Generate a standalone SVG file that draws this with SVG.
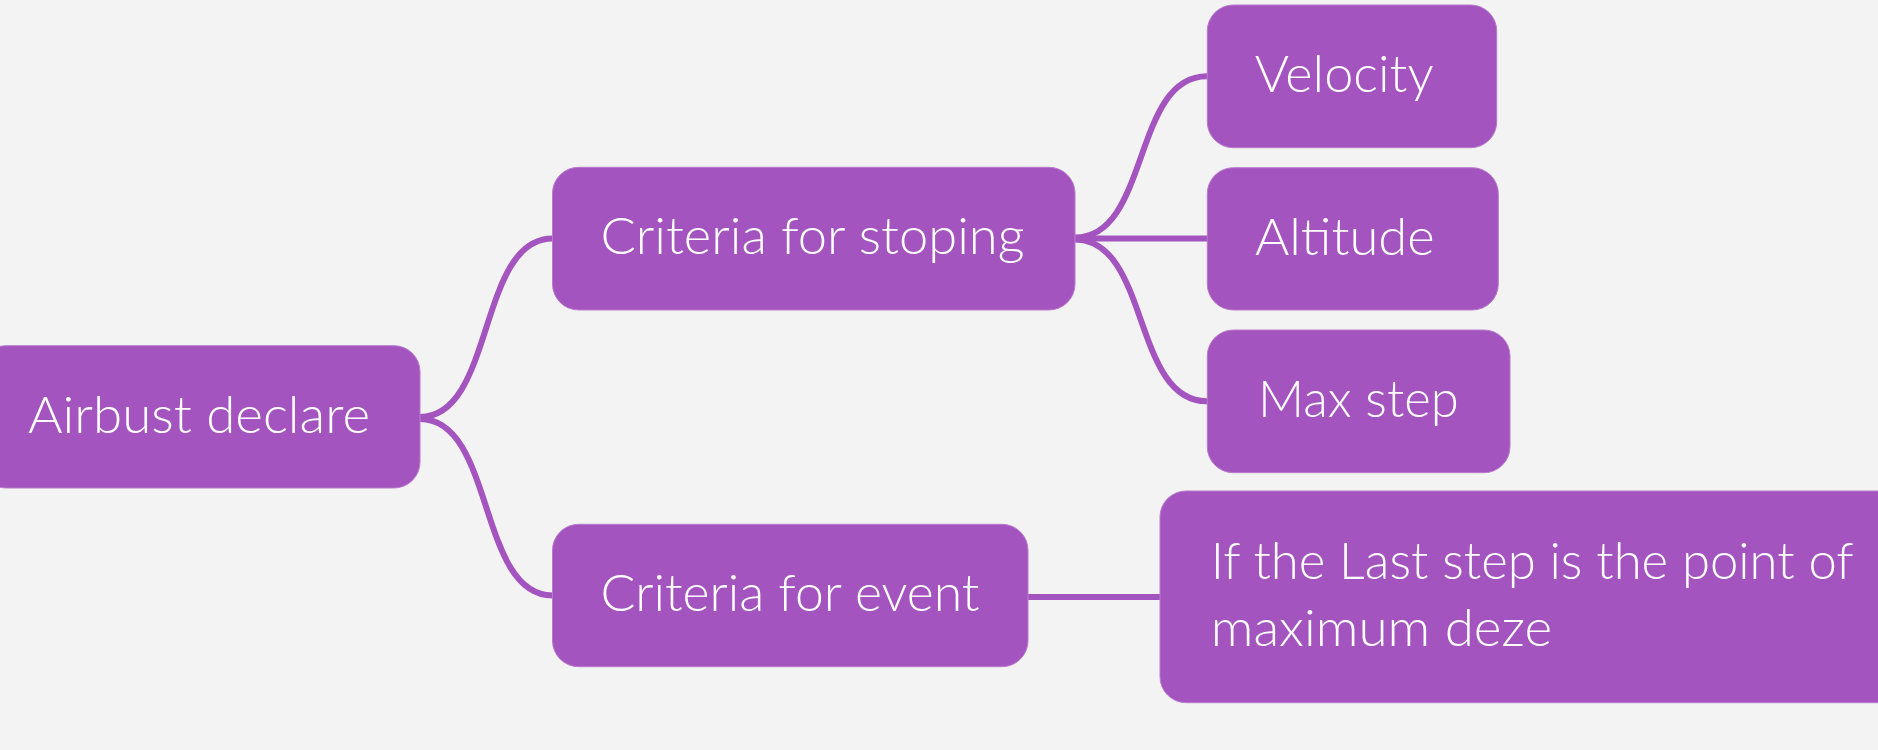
<svg xmlns="http://www.w3.org/2000/svg" width="1878" height="750" viewBox="0 0 1878 750">
<style>
.bg{fill:#F3F3F3}
.node rect{fill:#A454BE;stroke:#B77ACB;stroke-width:1}
.node text{fill:#FFFFFF;font-family:Lato,"Liberation Sans",sans-serif;font-weight:300;font-size:52px}
.conn path{fill:none;stroke:#A454BE;stroke-width:6;stroke-linecap:round}
</style>
<rect class="bg" x="0" y="0" width="1878" height="750"/>
<g id="connectors" class="conn">
<path d="M420,417 C495,417 477.5,238.5 552.5,238.5"/>
<path d="M420,419 C495,419 477.5,595.5 552.5,595.5"/>
<path d="M1075,237.5 C1150,237.5 1132,76.3 1207,76.3"/>
<path d="M1075,238.5 L1207,238.5"/>
<path d="M1075,239.5 C1150,239.5 1132,401.3 1207,401.3"/>
<path d="M1028,597 L1160,597"/>
</g>
<g id="n-root" class="node">
<rect x="-20" y="345.7" width="440" height="142.3" rx="26"/>
<text x="28" y="432.5" textLength="342" lengthAdjust="spacingAndGlyphs">Airbust declare</text>
</g>
<g id="n-stoping" class="node">
<rect x="552.5" y="167.3" width="522.5" height="142.7" rx="26"/>
<text x="600.5" y="254.3" textLength="424" lengthAdjust="spacingAndGlyphs">Criteria for stoping</text>
</g>
<g id="n-event" class="node">
<rect x="552.5" y="524.3" width="475.5" height="142.4" rx="26"/>
<text x="600.5" y="611" textLength="379" lengthAdjust="spacingAndGlyphs">Criteria for event</text>
</g>
<g id="n-velocity" class="node">
<rect x="1207.3" y="5" width="289.4" height="142.7" rx="26"/>
<text x="1254.7" y="91.7" textLength="179" lengthAdjust="spacingAndGlyphs">Velocity</text>
</g>
<g id="n-altitude" class="node">
<rect x="1207.3" y="167.7" width="291" height="142.3" rx="26"/>
<text x="1255" y="255" textLength="179.7" lengthAdjust="spacingAndGlyphs">Altitude</text>
</g>
<g id="n-maxstep" class="node">
<rect x="1207.3" y="330" width="302.7" height="142.7" rx="26"/>
<text x="1258" y="416.7" textLength="200.7" lengthAdjust="spacingAndGlyphs">Max step</text>
</g>
<g id="n-last" class="node">
<rect x="1160" y="491" width="760" height="211.7" rx="26"/>
<text x="1210.7" y="579" textLength="643" lengthAdjust="spacingAndGlyphs">If the Last step is the point of</text>
<text x="1210.7" y="645.7" textLength="341.5" lengthAdjust="spacingAndGlyphs">maximum deze</text>
</g>
</svg>
